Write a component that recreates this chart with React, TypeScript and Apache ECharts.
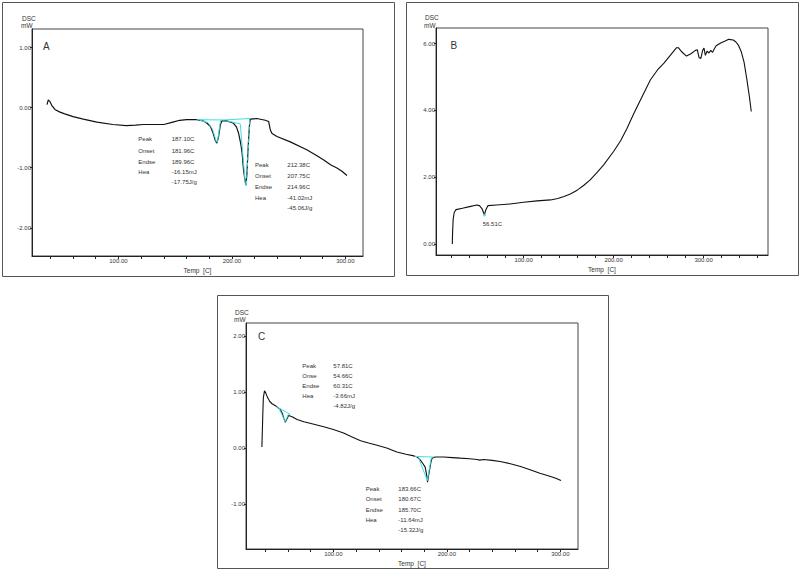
import React, { useEffect, useRef } from "react";
import * as echarts from "echarts";

// ---------- Panel A ----------
const aCurve: [number, number][] = [
  [37.0, 0.05], [38.2, 0.13], [39.3, 0.11], [41.2, 0.04], [44, -0.03], [48, -0.07], [52, -0.1],
  [60, -0.15], [69, -0.19], [81, -0.24], [95, -0.28], [107, -0.3], [115, -0.29], [122, -0.28],
  [140, -0.28], [148, -0.24], [154, -0.21], [160, -0.2], [169, -0.2], [175, -0.22], [178, -0.26],
  [181, -0.31], [183, -0.4], [185.3, -0.54], [186.8, -0.59], [188.3, -0.48], [189.8, -0.29],
  [191.2, -0.22], [195.6, -0.22], [201.5, -0.26], [204, -0.32], [206, -0.43], [208, -0.62],
  [209, -0.75], [210.3, -1.04], [211.5, -1.2], [212.4, -1.29], [213.3, -1.1], [214, -0.8],
  [214.7, -0.54], [215.5, -0.3], [216.2, -0.19], [222, -0.18], [229.5, -0.21], [232.4, -0.23],
  [233.9, -0.37], [235.4, -0.43], [239.8, -0.48], [251.5, -0.57], [266, -0.7], [275, -0.8],
  [281, -0.87], [287, -0.95], [293, -1.01], [297, -1.06], [301.5, -1.13],
];
const aBase1: [number, number][] = [[169, -0.2], [193, -0.205]];
const aTan1: [number, number][] = [[172, -0.21], [179, -0.25], [183, -0.36], [186.3, -0.57], [187.3, -0.57], [190, -0.21]];
const aBase2: [number, number][] = [[192.7, -0.205], [216.5, -0.18]];
const aTan2a: [number, number][] = [[195.6, -0.22], [207.4, -0.27], [212, -1.3]];
const aTan2b: [number, number][] = [[212.8, -1.28], [215.8, -0.19]];

// ---------- Panel B ----------
const bCurve: [number, number][] = [
  [20.8, 0], [21.2, 0.4], [21.8, 0.75], [23, 0.95], [25, 1.03], [32, 1.07], [40, 1.12], [48, 1.17],
  [51, 1.15], [54, 1.05], [56.5, 0.87], [58, 1.02], [60.5, 1.15], [70, 1.17], [85, 1.2], [100, 1.25],
  [115, 1.29], [130, 1.32], [138, 1.36], [145, 1.42], [152, 1.5], [160, 1.62], [167, 1.76],
  [174, 1.92], [181, 2.12], [189, 2.37], [200, 2.77], [208, 3.1], [215, 3.47], [222, 3.88],
  [230, 4.32], [241, 4.92], [249, 5.22], [256, 5.42], [263, 5.65], [270, 5.88], [272, 5.88],
  [276, 5.75], [281, 5.63], [286, 5.7], [291, 5.8], [293, 5.82], [295, 5.58], [297, 5.56],
  [299, 5.8], [300.5, 5.87], [302, 5.65], [304, 5.78], [306, 5.72], [308, 5.8], [310, 5.74],
  [312, 5.85], [314, 5.94], [319, 6.02], [324, 6.08], [328, 6.13], [333, 6.11], [336, 6.05],
  [339, 5.94], [342, 5.75], [345, 5.45], [348, 4.95], [351, 4.4], [353, 3.97],
];
const bPeak: [number, number][] = [[56.5, 0.87]];

// ---------- Panel C ----------
const cCurve: [number, number][] = [
  [37.0, 0.02], [37.4, 0.3], [37.8, 0.6], [38.3, 0.9], [39.3, 1.02], [40.5, 0.98], [42, 0.9],
  [44, 0.83], [46, 0.79], [50, 0.74], [53, 0.69], [55, 0.62], [56.5, 0.52], [57.6, 0.46],
  [59, 0.52], [60.6, 0.58], [63.6, 0.56], [68, 0.51], [74, 0.47], [82, 0.43], [91.5, 0.38],
  [100, 0.33], [109, 0.27], [116, 0.2], [124, 0.13], [131, 0.09], [138.5, 0.05], [147, 0.0],
  [156, -0.07], [164, -0.11], [171, -0.14], [174, -0.16], [176.5, -0.21], [179, -0.28],
  [180.9, -0.34], [182.2, -0.48], [183, -0.61], [183.8, -0.5], [184.7, -0.4], [186, -0.25],
  [187, -0.18], [189.7, -0.16], [197, -0.16], [205, -0.17], [212, -0.18], [220, -0.19],
  [226.6, -0.205], [229, -0.215], [232.5, -0.205], [240, -0.22], [247, -0.24], [256, -0.28],
  [265, -0.33], [274, -0.39], [282, -0.45], [290, -0.5], [296, -0.54], [300.6, -0.58],
];
const cBase1: [number, number][] = [[50, 0.74], [62, 0.6]];
const cTan1: [number, number][] = [[52, 0.71], [57.5, 0.47], [60.5, 0.61]];
const cBase2: [number, number][] = [[172, -0.15], [188.5, -0.16]];
const cTan2: [number, number][] = [[175, -0.17], [182.8, -0.58], [186.3, -0.17]];

// ---------- Ticks ----------
const xLabelValues = [100, 200, 300];
const xTicksAC = [40, 60, 80, 100, 120, 140, 160, 180, 200, 220, 240, 260, 280, 300];
const xTicksB = [20, 40, 60, 80, 100, 120, 140, 160, 180, 200, 220, 240, 260, 280, 300, 320, 340, 360];
const yTicksA = [1, 0, -1, -2];
const yTicksB = [0, 2, 4, 6];
const yTicksC = [2, 1, 0, -1];

// ---------- Annotation text ----------
const annLabels = ["Peak", "Onset", "Endse", "Hea"];
const annLabelsC1 = ["Peak", "Onse", "Endse", "Hea"];
const annA1 = ["187.10C", "181.96C", "189.96C", "-16.15mJ", "-17.75J/g"];
const annA2 = ["212.38C", "207.75C", "214.96C", "-41.02mJ", "-45.06J/g"];
const annB = "56.51C";
const annC1 = ["57.81C", "54.66C", "60.31C", "-3.66mJ", "-4.82J/g"];
const annC2 = ["183.66C", "180.67C", "185.70C", "-11.64mJ", "-15.32J/g"];

const FONT = "'Liberation Sans Narrow', 'Liberation Sans', Arial, sans-serif";
const TXT = "#333";
const CYAN = "#3fdfe6";

function App() {
  const ref = useRef<HTMLDivElement>(null);
  useEffect(() => {
    if (!ref.current) return;
    const chart = echarts.init(ref.current, null, { renderer: "svg" });

    const grids = [
      { left: 32, top: 29, width: 331, height: 227 },
      { left: 436, top: 28, width: 332, height: 227 },
      { left: 246, top: 323, width: 332, height: 226 },
    ].map((g) => ({ ...g, show: true, borderColor: "#444", borderWidth: 1, backgroundColor: "transparent" }));

    const xAxis = (i: number, min: number, max: number, ticks: number[]) => ({
      type: "value",
      gridIndex: i,
      min,
      max,
      splitLine: { show: false },
      axisLine: { onZero: false, lineStyle: { color: "#222", width: 1 } },
      axisTick: { customValues: ticks, length: 3, lineStyle: { color: "#222" } },
      axisLabel: {
        customValues: xLabelValues,
        formatter: (v: number) => v.toFixed(2),
        fontSize: 6,
        fontFamily: FONT,
        color: TXT,
        margin: 2,
      },
      name: "Temp  [C]",
      nameLocation: "middle",
      nameGap: 11,
      nameTextStyle: { fontSize: 6.5, fontFamily: FONT, color: TXT },
    });
    const yAxis = (i: number, min: number, max: number, ticks: number[]) => ({
      type: "value",
      gridIndex: i,
      min,
      max,
      splitLine: { show: false },
      axisLine: { onZero: false, lineStyle: { color: "#222", width: 1 } },
      axisTick: { customValues: ticks, length: 2, lineStyle: { color: "#222" } },
      axisLabel: {
        customValues: ticks,
        formatter: (v: number) => v.toFixed(2),
        fontSize: 6,
        fontFamily: FONT,
        color: TXT,
        margin: 1,
      },
    });

    const line = (data: [number, number][], i: number, color: string, width: number, type = "solid", z = 2) => ({
      type: "line",
      xAxisIndex: i,
      yAxisIndex: i,
      data,
      showSymbol: false,
      symbol: "none",
      silent: true,
      z,
      lineStyle: { color, width, type },
    });

    const txt = (x: number, y: number, text: string, size = 6, extra: any = {}) => ({
      type: "text",
      x,
      y,
      style: { text, fontSize: size, fontFamily: FONT, fill: TXT, textVerticalAlign: "middle", verticalAlign: "middle", ...extra },
    });

    const block = (x1: number, x2: number, rows: number[], labels: string[], values: string[]) => {
      const out: any[] = [];
      labels.forEach((l, k) => out.push(txt(x1, rows[k], l)));
      values.forEach((v, k) => out.push(txt(x2, rows[k], v)));
      return out;
    };

    const border = (x: number, y: number, w: number, h: number) => ({
      type: "rect",
      shape: { x: x + 0.5, y: y + 0.5, width: w, height: h },
      style: { fill: "none", stroke: "#555", lineWidth: 1 },
      silent: true,
    });

    const graphic: any[] = [
      border(2, 2, 392, 274),
      border(406, 2, 392, 273),
      border(217, 295, 391, 273),
      txt(22, 18.5, "DSC", 6.5),
      txt(21, 25.8, "mW", 6.5),
      txt(425, 17.5, "DSC", 6.5),
      txt(424, 25, "mW", 6.5),
      txt(235, 312, "DSC", 6.5),
      txt(234, 319.3, "mW", 6.5),
      txt(43, 46.7, "A", 10, { fontFamily: "'Liberation Sans', Arial, sans-serif" }),
      txt(450.5, 45.3, "B", 10, { fontFamily: "'Liberation Sans', Arial, sans-serif" }),
      txt(258, 336.7, "C", 10, { fontFamily: "'Liberation Sans', Arial, sans-serif" }),
      ...block(138.3, 171.7, [139.3, 150.7, 161.7, 172.3, 182.3], annLabels, annA1),
      ...block(255, 287.3, [165, 176, 186.7, 198.3, 208.3], annLabels, annA2),
      txt(482.7, 224, annB),
      ...block(302.3, 333.3, [366, 376, 385.7, 396, 405.7], annLabelsC1, annC1),
      ...block(365.7, 398.3, [489, 499.3, 510, 520, 530], annLabels, annC2),
    ];

    chart.setOption({
      animation: false,
      backgroundColor: "#fff",
      grid: grids,
      xAxis: [
        xAxis(0, 23.8, 315.6, xTicksAC),
        xAxis(1, 2.7, 371.6, xTicksB),
        xAxis(2, 23, 315.6, xTicksAC),
      ],
      yAxis: [
        yAxis(0, -2.47, 1.31, yTicksA),
        yAxis(1, -0.33, 6.47, yTicksB),
        yAxis(2, -1.8, 2.23, yTicksC),
      ],
      series: [
        line(aCurve, 0, "#111", 1.2),
        line(aBase1, 0, CYAN, 1, "solid", 3),
        line(aTan1, 0, CYAN, 1, "solid", 3),
        line(aBase2, 0, CYAN, 1, "solid", 3),
        line(aTan2a, 0, CYAN, 1, "solid", 3),
        line(aTan2b, 0, CYAN, 1, "dashed", 3),
        line(bCurve, 1, "#111", 1.1),
        {
          type: "scatter",
          xAxisIndex: 1,
          yAxisIndex: 1,
          data: bPeak,
          symbolSize: 3,
          itemStyle: { color: CYAN },
          z: 3,
          silent: true,
        },
        line(cCurve, 2, "#111", 1.1),
        line(cBase1, 2, CYAN, 1, "solid", 3),
        line(cTan1, 2, CYAN, 1, "solid", 3),
        line(cBase2, 2, CYAN, 1, "solid", 3),
        line(cTan2, 2, CYAN, 1, "solid", 3),
      ],
      graphic,
    });
    return () => chart.dispose();
  }, []);
  return <div ref={ref} style={{ position: "absolute", left: 0, top: 0, width: 800, height: 571, background: "#fff" }} />;
}

export default App;
